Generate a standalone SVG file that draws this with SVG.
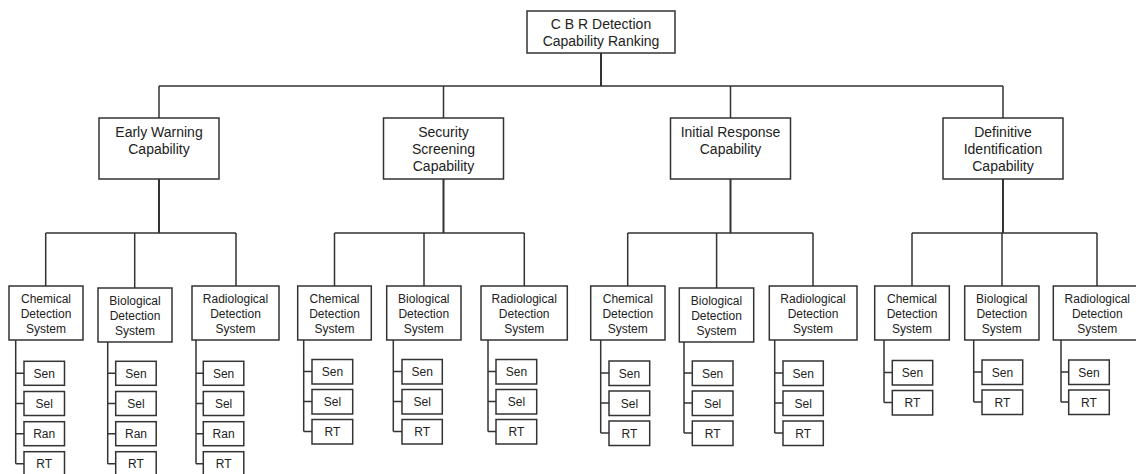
<svg xmlns="http://www.w3.org/2000/svg" width="1136" height="474" viewBox="0 0 1136 474">
  <style>
    .box { fill: #ffffff; stroke: #333333; stroke-width: 1.5; }
    .wire { fill: none; stroke: #333333; stroke-width: 1.5; }
    .trunk { stroke-width: 2; }
    text { font-family: "Liberation Sans", Arial, sans-serif; fill: #222222; text-anchor: middle; }
    .t14 { font-size: 14px; }
    .t12 { font-size: 12px; }
  </style>
  <rect width="1136" height="474" fill="#ffffff"/>

  <!-- connectors -->
  <g id="connectors">
    <!-- root to capabilities -->
    <path class="wire trunk" d="M601 53V86"/>
    <path class="wire" d="M159 86H1003M159 86V118M443.5 86V118M730.5 86V118M1003 86V118"/>
    <!-- capabilities to systems -->
    <path class="wire trunk" d="M159 179V233M443.5 179V233M730.5 179V233M1003 179V233"/>
    <path class="wire" d="M45.7 233H236M45.7 233V286M134.7 233V288M236 233V286"/>
    <path class="wire" d="M334.5 233H524.3M334.5 233V286M424 233V286M524.3 233V286"/>
    <path class="wire" d="M627.7 233H813M627.7 233V286M716.6 233V288M813 233V286"/>
    <path class="wire" d="M912 233H1097M912 233V286M1002 233V286M1097 233V286"/>
    <!-- systems to measures: early warning -->
    <path class="wire" d="M15.7 340V463.7M15.7 373.3H24M15.7 403.5H24M15.7 433.7H24M15.7 463.7H24"/>
    <path class="wire" d="M107.7 342V463.7M107.7 373.3H115.7M107.7 403.5H115.7M107.7 433.7H115.7M107.7 463.7H115.7"/>
    <path class="wire" d="M196 340V463.7M196 373.3H203.3M196 403.5H203.3M196 433.7H203.3M196 463.7H203.3"/>
    <!-- security screening -->
    <path class="wire" d="M303.7 340V431.5M303.7 371.5H312M303.7 401.5H312M303.7 431.5H312"/>
    <path class="wire" d="M393.3 340V431.5M393.3 371.5H402M393.3 401.5H402M393.3 431.5H402"/>
    <path class="wire" d="M488 340V431.5M488 371.5H496M488 401.5H496M488 431.5H496"/>
    <!-- initial response -->
    <path class="wire" d="M600.7 340V433M600.7 373H609M600.7 403H609M600.7 433H609"/>
    <path class="wire" d="M684 342V433M684 373H692.3M684 403H692.3M684 433H692.3"/>
    <path class="wire" d="M774.7 340V433M774.7 373H783M774.7 403H783M774.7 433H783"/>
    <!-- definitive identification -->
    <path class="wire" d="M884 340V402.5M884 372.5H892.3M884 402.5H892.3"/>
    <path class="wire" d="M973.7 340V402M973.7 372H982M973.7 402H982"/>
    <path class="wire" d="M1061 340V402M1061 372H1068.7M1061 402H1068.7"/>
  </g>

  <!-- root -->
  <g id="root">
    <rect class="box" x="527" y="11" width="148" height="42"/>
    <text class="t14" x="601" y="28.5">C B R Detection</text>
    <text class="t14" x="601" y="45.5">Capability Ranking</text>
  </g>

  <!-- capabilities -->
  <g id="early-warning">
    <rect class="box" x="99" y="118" width="120" height="61"/>
    <text class="t14" x="159" y="137">Early Warning</text>
    <text class="t14" x="159" y="154">Capability</text>
  </g>
  <g id="security-screening">
    <rect class="box" x="383.5" y="118" width="120" height="61"/>
    <text class="t14" x="443.5" y="137">Security</text>
    <text class="t14" x="443.5" y="154">Screening</text>
    <text class="t14" x="443.5" y="171">Capability</text>
  </g>
  <g id="initial-response">
    <rect class="box" x="670.5" y="118" width="120" height="61"/>
    <text class="t14" x="730.5" y="137">Initial Response</text>
    <text class="t14" x="730.5" y="154">Capability</text>
  </g>
  <g id="definitive-identification">
    <rect class="box" x="943" y="118" width="120" height="61"/>
    <text class="t14" x="1003" y="137">Definitive</text>
    <text class="t14" x="1003" y="154">Identification</text>
    <text class="t14" x="1003" y="171">Capability</text>
  </g>

  <!-- early warning systems -->
  <g id="ew-chem">
    <rect class="box" x="9" y="286" width="74" height="54"/>
    <text class="t12" x="46" y="303">Chemical</text>
    <text class="t12" x="46" y="318">Detection</text>
    <text class="t12" x="46" y="333">System</text>
  </g>
  <g id="ew-bio">
    <rect class="box" x="98" y="288" width="74" height="54"/>
    <text class="t12" x="135" y="305">Biological</text>
    <text class="t12" x="135" y="320">Detection</text>
    <text class="t12" x="135" y="335">System</text>
  </g>
  <g id="ew-rad">
    <rect class="box" x="192" y="286" width="87" height="54"/>
    <text class="t12" x="235.5" y="303">Radiological</text>
    <text class="t12" x="235.5" y="318">Detection</text>
    <text class="t12" x="235.5" y="333">System</text>
  </g>

  <!-- security screening systems -->
  <g id="ss-chem">
    <rect class="box" x="297.7" y="286" width="73.6" height="54"/>
    <text class="t12" x="334.5" y="303">Chemical</text>
    <text class="t12" x="334.5" y="318">Detection</text>
    <text class="t12" x="334.5" y="333">System</text>
  </g>
  <g id="ss-bio">
    <rect class="box" x="386.7" y="286" width="74.3" height="54"/>
    <text class="t12" x="423.8" y="303">Biological</text>
    <text class="t12" x="423.8" y="318">Detection</text>
    <text class="t12" x="423.8" y="333">System</text>
  </g>
  <g id="ss-rad">
    <rect class="box" x="481" y="286" width="86.3" height="54"/>
    <text class="t12" x="524.2" y="303">Radiological</text>
    <text class="t12" x="524.2" y="318">Detection</text>
    <text class="t12" x="524.2" y="333">System</text>
  </g>

  <!-- initial response systems -->
  <g id="ir-chem">
    <rect class="box" x="590.7" y="286" width="74.3" height="54"/>
    <text class="t12" x="627.8" y="303">Chemical</text>
    <text class="t12" x="627.8" y="318">Detection</text>
    <text class="t12" x="627.8" y="333">System</text>
  </g>
  <g id="ir-bio">
    <rect class="box" x="679.3" y="288" width="74.4" height="54"/>
    <text class="t12" x="716.5" y="305">Biological</text>
    <text class="t12" x="716.5" y="320">Detection</text>
    <text class="t12" x="716.5" y="335">System</text>
  </g>
  <g id="ir-rad">
    <rect class="box" x="769.3" y="286" width="87.7" height="54"/>
    <text class="t12" x="813" y="303">Radiological</text>
    <text class="t12" x="813" y="318">Detection</text>
    <text class="t12" x="813" y="333">System</text>
  </g>

  <!-- definitive identification systems -->
  <g id="di-chem">
    <rect class="box" x="874.7" y="286" width="74.6" height="54"/>
    <text class="t12" x="912" y="303">Chemical</text>
    <text class="t12" x="912" y="318">Detection</text>
    <text class="t12" x="912" y="333">System</text>
  </g>
  <g id="di-bio">
    <rect class="box" x="964.7" y="286" width="74.3" height="54"/>
    <text class="t12" x="1001.8" y="303">Biological</text>
    <text class="t12" x="1001.8" y="318">Detection</text>
    <text class="t12" x="1001.8" y="333">System</text>
  </g>
  <g id="di-rad">
    <rect class="box" x="1053.3" y="286" width="88" height="54"/>
    <text class="t12" x="1097.3" y="303">Radiological</text>
    <text class="t12" x="1097.3" y="318">Detection</text>
    <text class="t12" x="1097.3" y="333">System</text>
  </g>

  <!-- measures: early warning -->
  <g id="ew-chem-sen"><rect class="box" x="24" y="361.3" width="40.5" height="24"/><text class="t12" x="44.2" y="377.6">Sen</text></g>
  <g id="ew-chem-sel"><rect class="box" x="24" y="391.5" width="40.5" height="24"/><text class="t12" x="44.2" y="407.8">Sel</text></g>
  <g id="ew-chem-ran"><rect class="box" x="24" y="421.7" width="40.5" height="24"/><text class="t12" x="44.2" y="438">Ran</text></g>
  <g id="ew-chem-rt"><rect class="box" x="24" y="451.7" width="40.5" height="24"/><text class="t12" x="44.2" y="468">RT</text></g>

  <g id="ew-bio-sen"><rect class="box" x="115.7" y="361.3" width="40.5" height="24"/><text class="t12" x="136" y="377.6">Sen</text></g>
  <g id="ew-bio-sel"><rect class="box" x="115.7" y="391.5" width="40.5" height="24"/><text class="t12" x="136" y="407.8">Sel</text></g>
  <g id="ew-bio-ran"><rect class="box" x="115.7" y="421.7" width="40.5" height="24"/><text class="t12" x="136" y="438">Ran</text></g>
  <g id="ew-bio-rt"><rect class="box" x="115.7" y="451.7" width="40.5" height="24"/><text class="t12" x="136" y="468">RT</text></g>

  <g id="ew-rad-sen"><rect class="box" x="203.3" y="361.3" width="40.5" height="24"/><text class="t12" x="223.6" y="377.6">Sen</text></g>
  <g id="ew-rad-sel"><rect class="box" x="203.3" y="391.5" width="40.5" height="24"/><text class="t12" x="223.6" y="407.8">Sel</text></g>
  <g id="ew-rad-ran"><rect class="box" x="203.3" y="421.7" width="40.5" height="24"/><text class="t12" x="223.6" y="438">Ran</text></g>
  <g id="ew-rad-rt"><rect class="box" x="203.3" y="451.7" width="40.5" height="24"/><text class="t12" x="223.6" y="468">RT</text></g>

  <!-- measures: security screening -->
  <g id="ss-chem-sen"><rect class="box" x="312" y="359.5" width="40.7" height="24.5"/><text class="t12" x="332.4" y="376">Sen</text></g>
  <g id="ss-chem-sel"><rect class="box" x="312" y="389.5" width="40.7" height="24.5"/><text class="t12" x="332.4" y="406">Sel</text></g>
  <g id="ss-chem-rt"><rect class="box" x="312" y="419.5" width="40.7" height="24.5"/><text class="t12" x="332.4" y="436">RT</text></g>

  <g id="ss-bio-sen"><rect class="box" x="402" y="359.5" width="40.3" height="24.5"/><text class="t12" x="422.2" y="376">Sen</text></g>
  <g id="ss-bio-sel"><rect class="box" x="402" y="389.5" width="40.3" height="24.5"/><text class="t12" x="422.2" y="406">Sel</text></g>
  <g id="ss-bio-rt"><rect class="box" x="402" y="419.5" width="40.3" height="24.5"/><text class="t12" x="422.2" y="436">RT</text></g>

  <g id="ss-rad-sen"><rect class="box" x="496" y="359.5" width="40.7" height="24.5"/><text class="t12" x="516.4" y="376">Sen</text></g>
  <g id="ss-rad-sel"><rect class="box" x="496" y="389.5" width="40.7" height="24.5"/><text class="t12" x="516.4" y="406">Sel</text></g>
  <g id="ss-rad-rt"><rect class="box" x="496" y="419.5" width="40.7" height="24.5"/><text class="t12" x="516.4" y="436">RT</text></g>

  <!-- measures: initial response -->
  <g id="ir-chem-sen"><rect class="box" x="609" y="361" width="40.7" height="24.5"/><text class="t12" x="629.4" y="377.5">Sen</text></g>
  <g id="ir-chem-sel"><rect class="box" x="609" y="391" width="40.7" height="24.5"/><text class="t12" x="629.4" y="407.5">Sel</text></g>
  <g id="ir-chem-rt"><rect class="box" x="609" y="421" width="40.7" height="24.5"/><text class="t12" x="629.4" y="437.5">RT</text></g>

  <g id="ir-bio-sen"><rect class="box" x="692.3" y="361" width="40.7" height="24.5"/><text class="t12" x="712.6" y="377.5">Sen</text></g>
  <g id="ir-bio-sel"><rect class="box" x="692.3" y="391" width="40.7" height="24.5"/><text class="t12" x="712.6" y="407.5">Sel</text></g>
  <g id="ir-bio-rt"><rect class="box" x="692.3" y="421" width="40.7" height="24.5"/><text class="t12" x="712.6" y="437.5">RT</text></g>

  <g id="ir-rad-sen"><rect class="box" x="783" y="361" width="40.3" height="24.5"/><text class="t12" x="803.2" y="377.5">Sen</text></g>
  <g id="ir-rad-sel"><rect class="box" x="783" y="391" width="40.3" height="24.5"/><text class="t12" x="803.2" y="407.5">Sel</text></g>
  <g id="ir-rad-rt"><rect class="box" x="783" y="421" width="40.3" height="24.5"/><text class="t12" x="803.2" y="437.5">RT</text></g>

  <!-- measures: definitive identification -->
  <g id="di-chem-sen"><rect class="box" x="892.3" y="360.5" width="40.4" height="24.5"/><text class="t12" x="912.5" y="377">Sen</text></g>
  <g id="di-chem-rt"><rect class="box" x="892.3" y="390.5" width="40.4" height="24.5"/><text class="t12" x="912.5" y="407">RT</text></g>

  <g id="di-bio-sen"><rect class="box" x="982" y="360" width="40.7" height="24.5"/><text class="t12" x="1002.4" y="376.5">Sen</text></g>
  <g id="di-bio-rt"><rect class="box" x="982" y="390" width="40.7" height="24.5"/><text class="t12" x="1002.4" y="406.5">RT</text></g>

  <g id="di-rad-sen"><rect class="box" x="1068.7" y="360" width="40.6" height="24.5"/><text class="t12" x="1089" y="376.5">Sen</text></g>
  <g id="di-rad-rt"><rect class="box" x="1068.7" y="390" width="40.6" height="24.5"/><text class="t12" x="1089" y="406.5">RT</text></g>
</svg>
